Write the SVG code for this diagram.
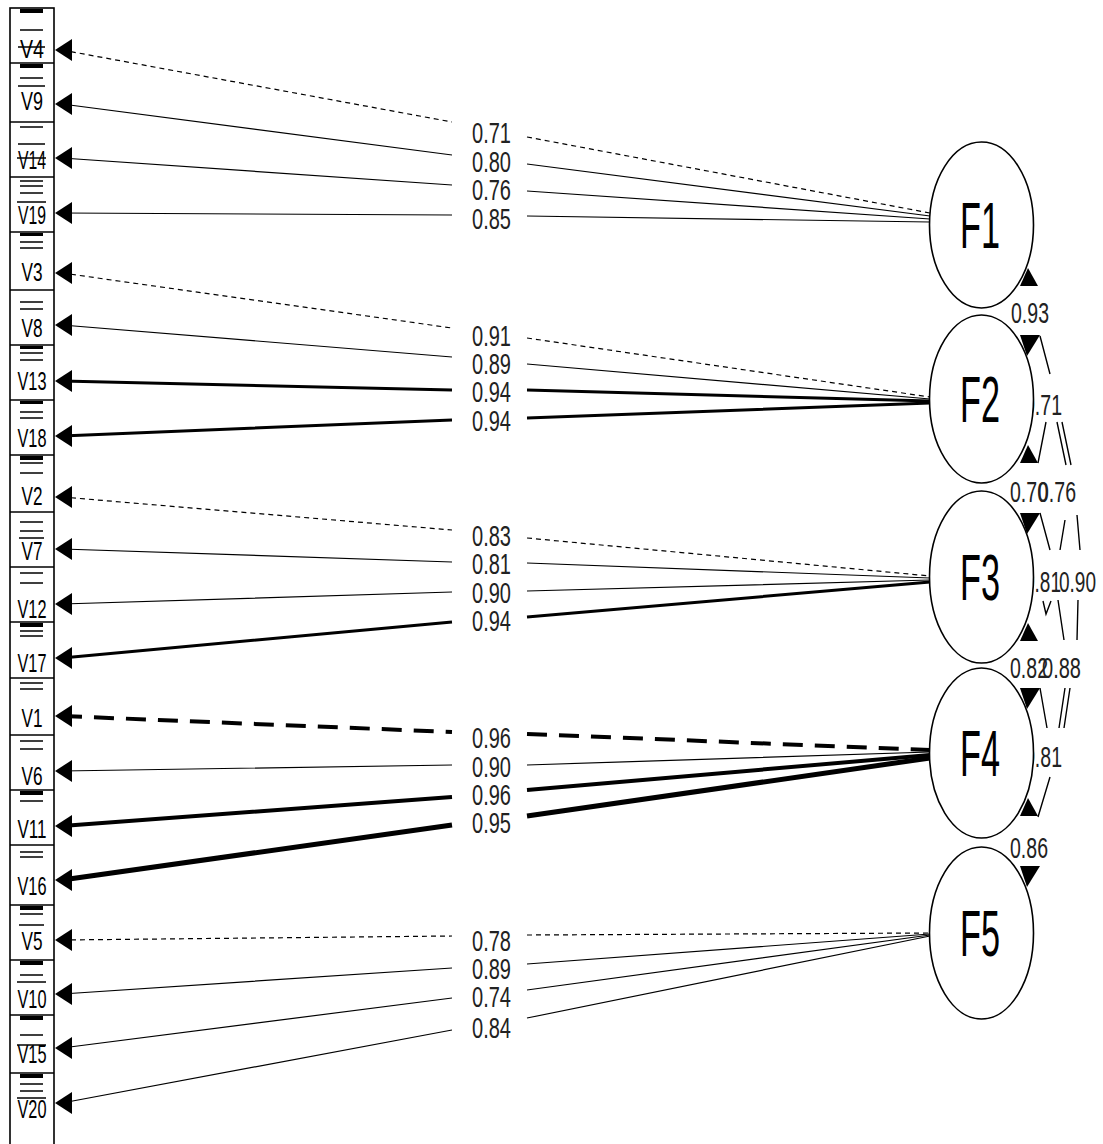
<svg xmlns="http://www.w3.org/2000/svg" xmlns:xlink="http://www.w3.org/1999/xlink" width="1103" height="1144" viewBox="0 0 1103 1144">
<style>
.bg{fill:#fff}
.box{fill:#fff;stroke:#000;stroke-width:1.6}
.div{stroke:#000;stroke-width:1.6}
.bar{fill:#000}
.ln{stroke:#000;stroke-width:1.5}
.vl{font-family:"Liberation Sans",Arial,sans-serif;font-size:25px;fill:#000;text-anchor:middle}
.num{font-family:"Liberation Sans",Arial,sans-serif;font-size:29px;fill:#222}
.fl{font-family:"Liberation Sans",Arial,sans-serif;font-size:64px;fill:#000;text-anchor:middle}
.e{fill:none;stroke:#000}
.t1{stroke-width:1.2}
.t3{stroke-width:3}
.t4{stroke-width:4}
.t5{stroke-width:5}
.d{stroke-dasharray:5 4}
.dd{stroke-dasharray:20 12}
.fac{fill:#fff;stroke:#000;stroke-width:1.6}
.cs{fill:none;stroke:#000;stroke-width:1.4}
.ah{fill:#000}
</style>
<defs>
<path id="ahl" d="M0,0 L17,-11 L17,11 Z"/>
<path id="ahu" d="M0,0 L-8,18 L10,18 Z"/>
<path id="ahd" d="M-7,0 L13,0 L0,21 Z"/>
</defs>
<rect class="bg" x="0" y="0" width="1103" height="1144"/>

<g id="connectors">
<!-- F1 -->
<path class="e t1 d" d="M62,50 L452,122 M527,137 L930,213"/>
<path class="e t1" d="M62,104 L452,155 M527,164 L930,216"/>
<path class="e t1" d="M62,158 L452,185 M527,191 L930,219"/>
<path class="e t1" d="M62,213 L452,215 M527,216 L930,222"/>
<!-- F2 -->
<path class="e t1 d" d="M62,273 L452,328 M527,338 L930,397"/>
<path class="e t1" d="M62,325 L452,357 M527,364 L930,399"/>
<path class="e t3" d="M62,381 L452,390 M527,390 L930,401"/>
<path class="e t3" d="M62,436 L452,420 M527,418 L930,403"/>
<!-- F3 -->
<path class="e t1 d" d="M62,497 L452,530 M527,538 L930,576"/>
<path class="e t1" d="M62,549 L452,562 M527,563 L930,578"/>
<path class="e t1" d="M62,604 L452,592 M527,591 L930,580"/>
<path class="e t3" d="M62,658 L452,622 M527,617 L930,582"/>
<!-- F4 -->
<path class="e t4 dd" d="M62,716 L452,732 M527,734 L930,750"/>
<path class="e t1" d="M62,771 L452,765 M527,765 L930,752"/>
<path class="e t4" d="M62,826 L452,797 M527,790 L930,755"/>
<path class="e t5" d="M62,880 L452,825 M527,816 L930,758"/>
<!-- F5 -->
<path class="e t1 d" d="M62,940 L452,936 M527,935 L930,933"/>
<path class="e t1" d="M62,994 L452,968 M527,964 L930,934"/>
<path class="e t1" d="M62,1048 L452,998 M527,990 L930,935"/>
<path class="e t1" d="M62,1103 L452,1030 M527,1018 L930,936"/>

<g id="left-arrowheads" class="ah">
<use xlink:href="#ahl" x="55" y="50"/><use xlink:href="#ahl" x="55" y="104"/><use xlink:href="#ahl" x="55" y="158"/><use xlink:href="#ahl" x="55" y="213"/>
<use xlink:href="#ahl" x="55" y="273"/><use xlink:href="#ahl" x="55" y="325"/><use xlink:href="#ahl" x="55" y="381"/><use xlink:href="#ahl" x="55" y="436"/>
<use xlink:href="#ahl" x="55" y="497"/><use xlink:href="#ahl" x="55" y="549"/><use xlink:href="#ahl" x="55" y="604"/><use xlink:href="#ahl" x="55" y="658"/>
<use xlink:href="#ahl" x="55" y="716"/><use xlink:href="#ahl" x="55" y="771"/><use xlink:href="#ahl" x="55" y="826"/><use xlink:href="#ahl" x="55" y="880"/>
<use xlink:href="#ahl" x="55" y="940"/><use xlink:href="#ahl" x="55" y="994"/><use xlink:href="#ahl" x="55" y="1048"/><use xlink:href="#ahl" x="55" y="1103"/>
</g>

<g id="loading-labels">
<text class="num" x="472" y="143" textLength="39" lengthAdjust="spacingAndGlyphs">0.71</text>
<text class="num" x="472" y="172" textLength="39" lengthAdjust="spacingAndGlyphs">0.80</text>
<text class="num" x="472" y="200" textLength="39" lengthAdjust="spacingAndGlyphs">0.76</text>
<text class="num" x="472" y="229" textLength="39" lengthAdjust="spacingAndGlyphs">0.85</text>
<text class="num" x="472" y="346" textLength="39" lengthAdjust="spacingAndGlyphs">0.91</text>
<text class="num" x="472" y="374" textLength="39" lengthAdjust="spacingAndGlyphs">0.89</text>
<text class="num" x="472" y="402" textLength="39" lengthAdjust="spacingAndGlyphs">0.94</text>
<text class="num" x="472" y="431" textLength="39" lengthAdjust="spacingAndGlyphs">0.94</text>
<text class="num" x="472" y="546" textLength="39" lengthAdjust="spacingAndGlyphs">0.83</text>
<text class="num" x="472" y="574" textLength="39" lengthAdjust="spacingAndGlyphs">0.81</text>
<text class="num" x="472" y="603" textLength="39" lengthAdjust="spacingAndGlyphs">0.90</text>
<text class="num" x="472" y="631" textLength="39" lengthAdjust="spacingAndGlyphs">0.94</text>
<text class="num" x="472" y="748" textLength="39" lengthAdjust="spacingAndGlyphs">0.96</text>
<text class="num" x="472" y="777" textLength="39" lengthAdjust="spacingAndGlyphs">0.90</text>
<text class="num" x="472" y="805" textLength="39" lengthAdjust="spacingAndGlyphs">0.96</text>
<text class="num" x="472" y="833" textLength="39" lengthAdjust="spacingAndGlyphs">0.95</text>
<text class="num" x="472" y="951" textLength="39" lengthAdjust="spacingAndGlyphs">0.78</text>
<text class="num" x="472" y="979" textLength="39" lengthAdjust="spacingAndGlyphs">0.89</text>
<text class="num" x="472" y="1007" textLength="39" lengthAdjust="spacingAndGlyphs">0.74</text>
<text class="num" x="472" y="1038" textLength="39" lengthAdjust="spacingAndGlyphs">0.84</text>
</g>

<g id="correlations">
<path class="cs" d="M1040,336 L1050,374 M1046,422 L1038,463 M1057,422 L1066,465 M1062,422 L1071,465 M1040,513 L1050,550 M1065,520 L1060,550 M1077,515 L1080,550 M1043,601 L1046,614 L1051,601 M1058,600 L1064,640 M1078,600 L1077,640 M1040,688 L1047,728 M1065,688 L1059,728 M1070,688 L1064,728 M1050,777 L1038,817"/>
<text class="num" x="1011" y="323" textLength="38" lengthAdjust="spacingAndGlyphs">0.93</text>
<text class="num" x="1024" y="415" textLength="38" lengthAdjust="spacingAndGlyphs">0.71</text>
<text class="num" x="1010" y="502" textLength="38" lengthAdjust="spacingAndGlyphs">0.70</text>
<text class="num" x="1038" y="502" textLength="38" lengthAdjust="spacingAndGlyphs">0.76</text>
<text class="num" x="1024" y="592" textLength="37" lengthAdjust="spacingAndGlyphs">0.81</text>
<text class="num" x="1059" y="592" textLength="37" lengthAdjust="spacingAndGlyphs">0.90</text>
<text class="num" x="1010" y="678" textLength="38" lengthAdjust="spacingAndGlyphs">0.82</text>
<text class="num" x="1042" y="678" textLength="39" lengthAdjust="spacingAndGlyphs">0.88</text>
<text class="num" x="1024" y="767" textLength="38" lengthAdjust="spacingAndGlyphs">0.81</text>
<text class="num" x="1010" y="858" textLength="38" lengthAdjust="spacingAndGlyphs">0.86</text>
</g>
</g>

<g id="indicators">
<rect class="box" x="10" y="8" width="44" height="1145"/>
<g id="V4"><rect class="bar" x="20" y="9" width="23" height="4"/><path class="ln" d="M20,30 H43 M18,47 H45"/><text class="vl" x="32" y="58" textLength="24" lengthAdjust="spacingAndGlyphs">V4</text></g>
<g id="V9"><line class="div" x1="10" y1="63" x2="54" y2="63"/><rect class="bar" x="20" y="64" width="23" height="4"/><path class="ln" d="M20,78 H43 M18,86 H45"/><text class="vl" x="32" y="110" textLength="22" lengthAdjust="spacingAndGlyphs">V9</text></g>
<g id="V14"><line class="div" x1="10" y1="122" x2="54" y2="122"/><path class="ln" d="M20,127 H43 M18,144 H45 M17,158 H46"/><text class="vl" x="32" y="169" textLength="28" lengthAdjust="spacingAndGlyphs">V14</text></g>
<g id="V19"><line class="div" x1="10" y1="177" x2="54" y2="177"/><path class="ln" d="M20,181 H43 M20,186 H43 M20,193 H43 M17,202 H46"/><text class="vl" x="32" y="224" textLength="28" lengthAdjust="spacingAndGlyphs">V19</text></g>
<g id="V3"><line class="div" x1="10" y1="232" x2="54" y2="232"/><rect class="bar" x="20" y="233" width="23" height="3"/><path class="ln" d="M20,242 H43 M20,248 H43"/><text class="vl" x="32" y="281" textLength="21" lengthAdjust="spacingAndGlyphs">V3</text></g>
<g id="V8"><line class="div" x1="10" y1="290" x2="54" y2="290"/><path class="ln" d="M20,302 H43 M20,309 H43"/><text class="vl" x="32" y="337" textLength="21" lengthAdjust="spacingAndGlyphs">V8</text></g>
<g id="V13"><line class="div" x1="10" y1="345" x2="54" y2="345"/><rect class="bar" x="20" y="346" width="23" height="3"/><path class="ln" d="M20,353 H43 M20,360 H43"/><text class="vl" x="32" y="390" textLength="29" lengthAdjust="spacingAndGlyphs">V13</text></g>
<g id="V18"><line class="div" x1="10" y1="400" x2="54" y2="400"/><rect class="bar" x="20" y="401" width="23" height="3"/><path class="ln" d="M20,412 H43 M20,418 H43"/><text class="vl" x="32" y="447" textLength="29" lengthAdjust="spacingAndGlyphs">V18</text></g>
<g id="V2"><line class="div" x1="10" y1="455" x2="54" y2="455"/><rect class="bar" x="20" y="456" width="23" height="4"/><path class="ln" d="M20,463 H43 M20,473 H43"/><text class="vl" x="32" y="505" textLength="21" lengthAdjust="spacingAndGlyphs">V2</text></g>
<g id="V7"><line class="div" x1="10" y1="512" x2="54" y2="512"/><path class="ln" d="M20,522 H43 M20,531 H43 M19,538 H44"/><text class="vl" x="32" y="560" textLength="21" lengthAdjust="spacingAndGlyphs">V7</text></g>
<g id="V12"><line class="div" x1="10" y1="567" x2="54" y2="567"/><path class="ln" d="M20,573 H43 M20,583 H43"/><text class="vl" x="32" y="618" textLength="29" lengthAdjust="spacingAndGlyphs">V12</text></g>
<g id="V17"><line class="div" x1="10" y1="622" x2="54" y2="622"/><rect class="bar" x="20" y="623" width="23" height="4"/><path class="ln" d="M20,631 H43 M20,636 H43"/><text class="vl" x="32" y="672" textLength="29" lengthAdjust="spacingAndGlyphs">V17</text></g>
<g id="V1"><line class="div" x1="10" y1="678" x2="54" y2="678"/><path class="ln" d="M20,683 H43 M20,689 H43"/><text class="vl" x="32" y="727" textLength="21" lengthAdjust="spacingAndGlyphs">V1</text></g>
<g id="V6"><line class="div" x1="10" y1="735" x2="54" y2="735"/><path class="ln" d="M20,741 H43 M20,749 H43"/><text class="vl" x="32" y="785" textLength="21" lengthAdjust="spacingAndGlyphs">V6</text></g>
<g id="V11"><line class="div" x1="10" y1="790" x2="54" y2="790"/><rect class="bar" x="20" y="791" width="23" height="4"/><path class="ln" d="M20,801 H43"/><text class="vl" x="32" y="838" textLength="29" lengthAdjust="spacingAndGlyphs">V11</text></g>
<g id="V16"><line class="div" x1="10" y1="845" x2="54" y2="845"/><path class="ln" d="M20,852 H43 M20,857 H43"/><text class="vl" x="32" y="895" textLength="29" lengthAdjust="spacingAndGlyphs">V16</text></g>
<g id="V5"><line class="div" x1="10" y1="905" x2="54" y2="905"/><rect class="bar" x="20" y="906" width="23" height="4"/><path class="ln" d="M20,914 H43 M19,925 H44"/><text class="vl" x="32" y="950" textLength="21" lengthAdjust="spacingAndGlyphs">V5</text></g>
<g id="V10"><line class="div" x1="10" y1="960" x2="54" y2="960"/><rect class="bar" x="20" y="961" width="23" height="4"/><path class="ln" d="M20,975 H43 M17,982 H46"/><text class="vl" x="32" y="1008" textLength="29" lengthAdjust="spacingAndGlyphs">V10</text></g>
<g id="V15"><line class="div" x1="10" y1="1015" x2="54" y2="1015"/><rect class="bar" x="20" y="1016" width="23" height="4"/><path class="ln" d="M20,1035 H43 M17,1045 H46"/><text class="vl" x="32" y="1063" textLength="29" lengthAdjust="spacingAndGlyphs">V15</text></g>
<g id="V20"><line class="div" x1="10" y1="1073" x2="54" y2="1073"/><rect class="bar" x="20" y="1074" width="23" height="4"/><path class="ln" d="M20,1084 H43 M20,1091 H43 M17,1098 H46"/><text class="vl" x="32" y="1118" textLength="29" lengthAdjust="spacingAndGlyphs">V20</text></g>
</g>

<g id="factors">
<g id="F1"><ellipse class="fac" cx="981.5" cy="225" rx="52" ry="83"/><text class="fl" x="980" y="248" textLength="40" lengthAdjust="spacingAndGlyphs">F1</text></g>
<g id="F2"><ellipse class="fac" cx="981.5" cy="399" rx="52" ry="84"/><text class="fl" x="980" y="422" textLength="40" lengthAdjust="spacingAndGlyphs">F2</text></g>
<g id="F3"><ellipse class="fac" cx="981.5" cy="577" rx="52" ry="86"/><text class="fl" x="980" y="600" textLength="40" lengthAdjust="spacingAndGlyphs">F3</text></g>
<g id="F4"><ellipse class="fac" cx="981.5" cy="753" rx="52" ry="85"/><text class="fl" x="980" y="776" textLength="40" lengthAdjust="spacingAndGlyphs">F4</text></g>
<g id="F5"><ellipse class="fac" cx="981.5" cy="933" rx="52" ry="86"/><text class="fl" x="980" y="956" textLength="40" lengthAdjust="spacingAndGlyphs">F5</text></g>
</g>

<g id="correlation-heads" class="ah">
<use xlink:href="#ahu" x="1028" y="268"/>
<use xlink:href="#ahd" x="1027" y="335"/>
<use xlink:href="#ahu" x="1028" y="445"/>
<use xlink:href="#ahd" x="1027" y="513"/>
<use xlink:href="#ahu" x="1028" y="623"/>
<use xlink:href="#ahd" x="1027" y="688"/>
<use xlink:href="#ahu" x="1028" y="798"/>
<use xlink:href="#ahd" x="1027" y="866"/>
</g>
</svg>
